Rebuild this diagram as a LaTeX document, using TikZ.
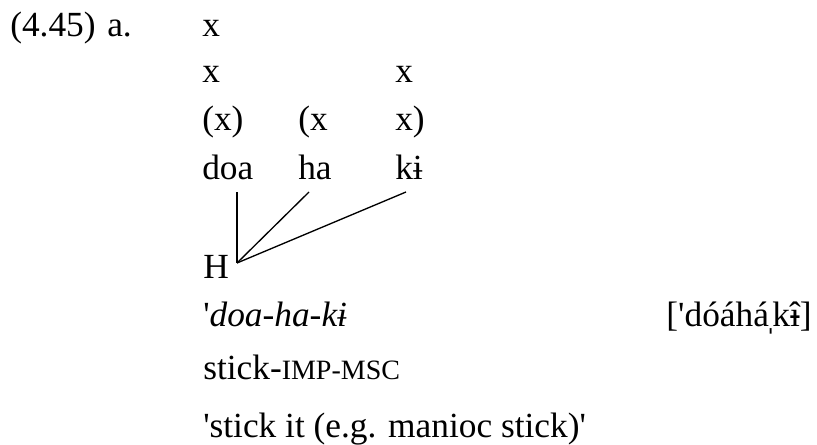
\documentclass[tikz,border=0pt]{standalone}
\usepackage{fontspec}
\setmainfont{Liberation Serif}
\newfontfamily\glossfont{Liberation Serif}
\tikzset{
    txt/.style = {anchor=base west, inner sep=0pt, font=\glossfont\fontsize{26.5}{31}\selectfont},
    assoc/.style = {line width=1pt}
}
\newcommand{\smcap}[1]{{\fontsize{21}{25}\selectfont #1}}
% barred i with circumflex, secondary stress mark
\newcommand{\barihat}{\ooalign{î\cr\hidewidth\raisebox{0.02em}{-}\hidewidth}}
\newcommand{\secstress}{\makebox[0.1em]{ˌ}}

\begin{document}
\begin{tikzpicture}[x=0.75pt, y=-0.75pt]
\useasboundingbox (0,0) rectangle (817,445);

\node[txt] (exnum) at (10,37) {(4.45)};
\node[txt] (exlet) at (107,37) {a.};

% metrical grid
\node[txt] (g1a) at (202,37) {x};
\node[txt] (g2a) at (202,83) {x};
\node[txt] (g2c) at (395,83) {x};
\node[txt] (g3a) at (202,131) {(x)};
\node[txt] (g3b) at (298,131) {(x};
\node[txt] (g3c) at (395,131) {x)};

% syllables
\node[txt] (doa) at (202,180) {doa};
\node[txt] (ha) at (298,180) {ha};
\node[txt] (ki) at (395,180) {kɨ};

\coordinate (doa-end) at (237,192);
\coordinate (ha-end) at (309,192);
\coordinate (ki-end) at (406,192);

% tone
\node[txt] (tone) at (203,278) {H};
\coordinate (hlink) at (237,263);

\draw[assoc] (hlink) -- (doa-end);
\draw[assoc] (hlink) -- (ha-end);
\draw[assoc] (hlink) -- (ki-end);

\node[txt] (form) at (203,326) {'\textit{doa-ha-kɨ}};
\node[txt, anchor=base east] (phon) at (812,326) {['dóáhá\secstress k\barihat]};
\node[txt] (gloss) at (203,379) {stick-\smcap{IMP-MSC}};
\node[txt] (transl) at (203,437) {'stick it (e.g. manioc stick)'};

\end{tikzpicture}
\end{document}
